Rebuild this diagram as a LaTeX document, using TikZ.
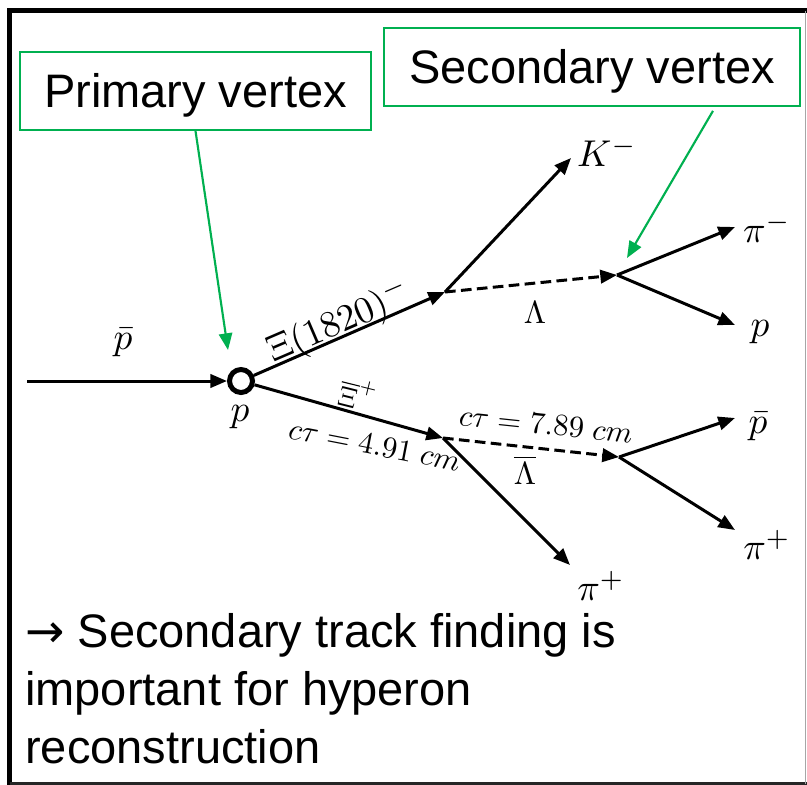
\documentclass[tikz,border=0pt]{standalone}
\usepackage{fontspec}
\setmainfont{Liberation Sans}
\newfontfamily\symfont{DejaVu Sans}
\usetikzlibrary{arrows.meta,calc}
\definecolor{okgreen}{HTML}{00B050}
\newcommand{\mathlbl}[2]{\scalebox{#1}{\fontsize{10}{12}\selectfont$#2$}}
\begin{document}
\begin{tikzpicture}[x=0.75pt,y=-0.75pt,
  trk/.style={line width=2.25pt,-{Triangle[length=12.5pt,width=10pt]}},
  dsh/.style={trk,dash pattern=on 8pt off 4pt},
  callout/.style={draw=okgreen,line width=1.3pt,minimum height=58.5pt,inner sep=0pt,
    font=\fontsize{35.25}{42}\selectfont,text height=25.2pt,text depth=0pt},
  ptr/.style={okgreen,line width=1.6pt,-{Triangle[length=12.5pt,width=10pt]}},
  lbl/.style={inner sep=0pt},
  bodyline/.style={anchor=base west,inner sep=0pt,font=\fontsize{35.25}{43.5}\selectfont}
]
\useasboundingbox (0,0) rectangle (807,785);
\fill[white] (0,0) rectangle (807,785);
% outer frame
\draw[line width=3.75pt] (9.5,785) -- (9.5,10.5) -- (807,10.5);
\draw[line width=2.25pt,black!85] (9.5,783.5) -- (807,783.5);
\draw[line width=1pt,black!35] (805.5,10.5) -- (805.5,783.5);

% callout boxes
\node[callout,minimum width=263.25pt] (pb) at (195.5,91) {Primary vertex};
\node[callout,minimum width=312pt] (sb) at (592,67) {Secondary vertex};

% vertices
\node[circle,draw,line width=3.75pt,minimum size=17.25pt,inner sep=0pt] (pv) at (241,381) {};
\coordinate (in) at (27,381);
\coordinate (v1) at (445,292);
\coordinate (v2) at (617,275);
\coordinate (v3) at (443,438);
\coordinate (v4) at (619,457);
\coordinate (kend) at (571,158);
\coordinate (pimend) at (735,227);
\coordinate (pend) at (735,325);
\coordinate (pbend) at (735,418);
\coordinate (pipend) at (735,530);
\coordinate (piplow) at (570,565);
\coordinate (pvtip) at (228,350);
\coordinate (svtip) at (627,258);

% tracks
\draw[trk] (in) -- (pv);
\draw[trk] (pv) -- (v1);
\draw[trk] (pv) -- (v3);
\draw[trk] (v1) -- (kend);
\draw[dsh] (v1) -- (v2);
\draw[trk] (v2) -- (pimend);
\draw[trk] (v2) -- (pend);
\draw[trk] (v3) -- (piplow);
\draw[dsh] (v3) -- (v4);
\draw[trk] (v4) -- (pbend);
\draw[trk] (v4) -- (pipend);

% green pointers
\draw[ptr] (pb.south) -- (pvtip);
\draw[ptr] ($(sb.south)+(121,4)$) -- (svtip);

% labels
\node[lbl] (lpbar) at (123,343) {\mathlbl{2.8}{\bar{p}}};
\node[lbl] (lp) at (240,417) {\mathlbl{2.8}{p}};
\node[lbl,anchor=base west,rotate=23.3] (lxi) at (273,363) {\mathlbl{2.8}{\Xi(1820)^{-}}};
\node[lbl,anchor=base west,rotate=-14] (lxib) at (336,404) {\mathlbl{2.1}{\overline{\Xi}^{+}}};
\node[lbl,anchor=base west,rotate=-11] (lct1) at (287,438) {\mathlbl{2.3}{c\tau = 4.91\ cm}};
\node[lbl,anchor=base west,rotate=-6] (lct2) at (458,425) {\mathlbl{2.3}{c\tau = 7.89\ cm}};
\node[lbl] (llam) at (535,313) {\mathlbl{2.4}{\Lambda}};
\node[lbl] (llamb) at (525,470) {\mathlbl{2.4}{\overline{\Lambda}}};
\node[lbl] (lk) at (607,152) {\mathlbl{2.8}{K^{-}}};
\node[lbl] (lpim) at (767,228) {\mathlbl{2.8}{\pi^{-}}};
\node[lbl] (lpr) at (760,332) {\mathlbl{2.8}{p}};
\node[lbl] (lpbr) at (758,427) {\mathlbl{2.8}{\bar{p}}};
\node[lbl] (lpip) at (767,545) {\mathlbl{2.8}{\pi^{+}}};
\node[lbl] (lpipl) at (601,586) {\mathlbl{2.8}{\pi^{+}}};

% bottom text
\node[bodyline] (t1) at (25,647) {{\symfont →} Secondary track finding is};
\node[bodyline] (t2) at (25,705) {important for hyperon};
\node[bodyline] (t3) at (25,763) {reconstruction};
\end{tikzpicture}
\end{document}
